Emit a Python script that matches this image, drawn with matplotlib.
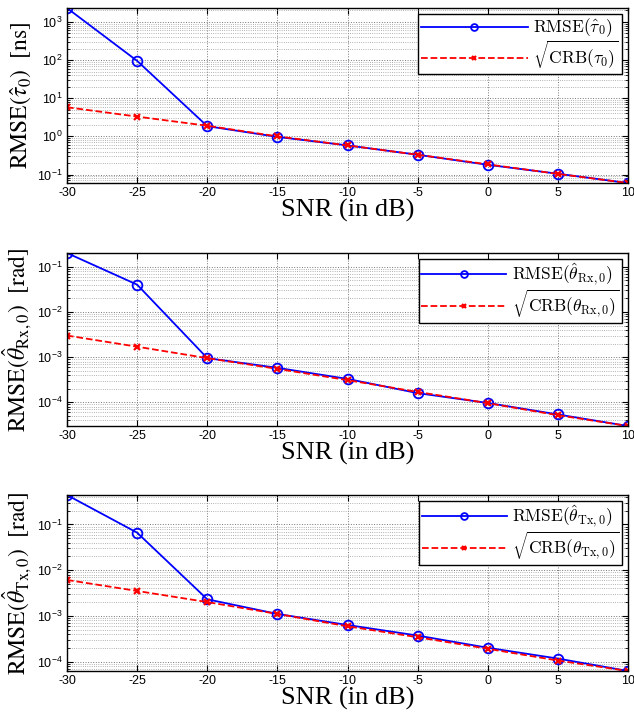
import matplotlib.pyplot as plt
from matplotlib.ticker import LogLocator, NullFormatter

plt.rcParams['font.family'] = ['Liberation Sans', 'DejaVu Sans']
plt.rcParams['mathtext.fontset'] = 'custom'
plt.rcParams['mathtext.rm'] = 'Liberation Sans'

snr = [-30, -25, -20, -15, -10, -5, 0, 5, 10]

# delay tau_0 [ns]
rmse_tau = [2300, 95, 1.85, 0.97, 0.58, 0.33, 0.18, 0.105, 0.06]
crb_tau = [5.8, 3.3, 1.9, 1.0, 0.58, 0.33, 0.185, 0.104, 0.06]

# receive angle [rad]
rmse_rx = [0.2, 0.04, 9.5e-4, 5.8e-4, 3.3e-4, 1.6e-4, 9.7e-5, 5.4e-5, 3.0e-5]
crb_rx = [3.0e-3, 1.7e-3, 9.5e-4, 5.5e-4, 3.1e-4, 1.7e-4, 9.6e-5, 5.2e-5, 3.0e-5]

# transmit angle [rad]
rmse_tx = [0.44, 0.066, 2.3e-3, 1.1e-3, 6.3e-4, 3.7e-4, 2.0e-4, 1.16e-4, 6.2e-5]
crb_tx = [6.1e-3, 3.5e-3, 2.0e-3, 1.1e-3, 5.9e-4, 3.4e-4, 1.9e-4, 1.05e-4, 6.2e-5]

panels = [
    (rmse_tau, crb_tau, r'$\mathrm{RMSE}(\hat{\tau}_0)$', r'$\sqrt{\mathrm{CRB}(\tau_0)}$',
     r'$\mathrm{RMSE}(\hat{\tau}_0)\ \ [\mathrm{ns}]$', 6.2),
    (rmse_rx, crb_rx, r'$\mathrm{RMSE}(\hat{\theta}_{\mathrm{Rx},0})$',
     r'$\sqrt{\mathrm{CRB}(\theta_{\mathrm{Rx},0})}$',
     r'$\mathrm{RMSE}(\hat{\theta}_{\mathrm{Rx},0})\ \ [\mathrm{rad}]$', 4.9),
    (rmse_tx, crb_tx, r'$\mathrm{RMSE}(\hat{\theta}_{\mathrm{Tx},0})$',
     r'$\sqrt{\mathrm{CRB}(\theta_{\mathrm{Tx},0})}$',
     r'$\mathrm{RMSE}(\hat{\theta}_{\mathrm{Tx},0})\ \ [\mathrm{rad}]$', 4.9),
]

fig = plt.figure(figsize=(6.34, 7.13), dpi=100)
rects = [
    [0.1057, 0.7433, 0.8849, 0.2454],
    [0.1057, 0.4025, 0.8849, 0.2426],
    [0.1057, 0.0589, 0.8849, 0.2468],
]

for rect, (rmse, crb, lab1, lab2, ylab, hlen) in zip(rects, panels):
    ax = fig.add_axes(rect)
    ax.plot(snr, rmse, '-o', color='#0000ff', lw=1.3, ms=7, mfc='none', mew=1.3, label=lab1)
    ax.plot(snr, crb, '--x', color='#ff0000', lw=1.3, ms=4, mew=1.6, label=lab2)
    ax.set_yscale('log')
    ax.set_xlim(-30, 10)
    lo = min(min(rmse), min(crb))
    hi = max(max(rmse), max(crb))
    ax.set_ylim(lo, hi)
    ax.set_xticks(snr)
    ax.set_xticklabels([str(s) for s in snr])
    ax.yaxis.set_major_locator(LogLocator(base=10, numticks=20))
    ax.yaxis.set_minor_locator(LogLocator(base=10, subs=range(2, 10), numticks=20))
    ax.yaxis.set_minor_formatter(NullFormatter())
    ax.tick_params(which='both', direction='in', top=True, right=True, labelsize=9)
    ax.tick_params(which='major', length=4, pad=3)
    ax.tick_params(which='minor', length=2)
    ax.grid(True, which='major', ls=':', color='#777777', lw=0.7)
    ax.grid(True, which='minor', axis='y', ls=':', color='#999999', lw=0.6)
    for s in ax.spines.values():
        s.set_linewidth(1.0)
    ax.set_xlabel('SNR (in dB)', family='Liberation Serif', fontsize=19, labelpad=0)
    ax.set_ylabel(ylab, fontsize=17, labelpad=2,
                  fontdict={'family': 'Liberation Serif', 'math_fontfamily': 'stix'})
    leg = ax.legend(loc='upper right', fancybox=False, framealpha=1, edgecolor='black',
                    handlelength=hlen, handletextpad=0.3, borderpad=0.15,
                    labelspacing=0.0, borderaxespad=0.35, markerscale=0.7,
                    prop={'size': 12.5, 'math_fontfamily': 'cm'})
    leg.get_frame().set_linewidth(1.0)

fig.savefig('out.png', dpi=100)
